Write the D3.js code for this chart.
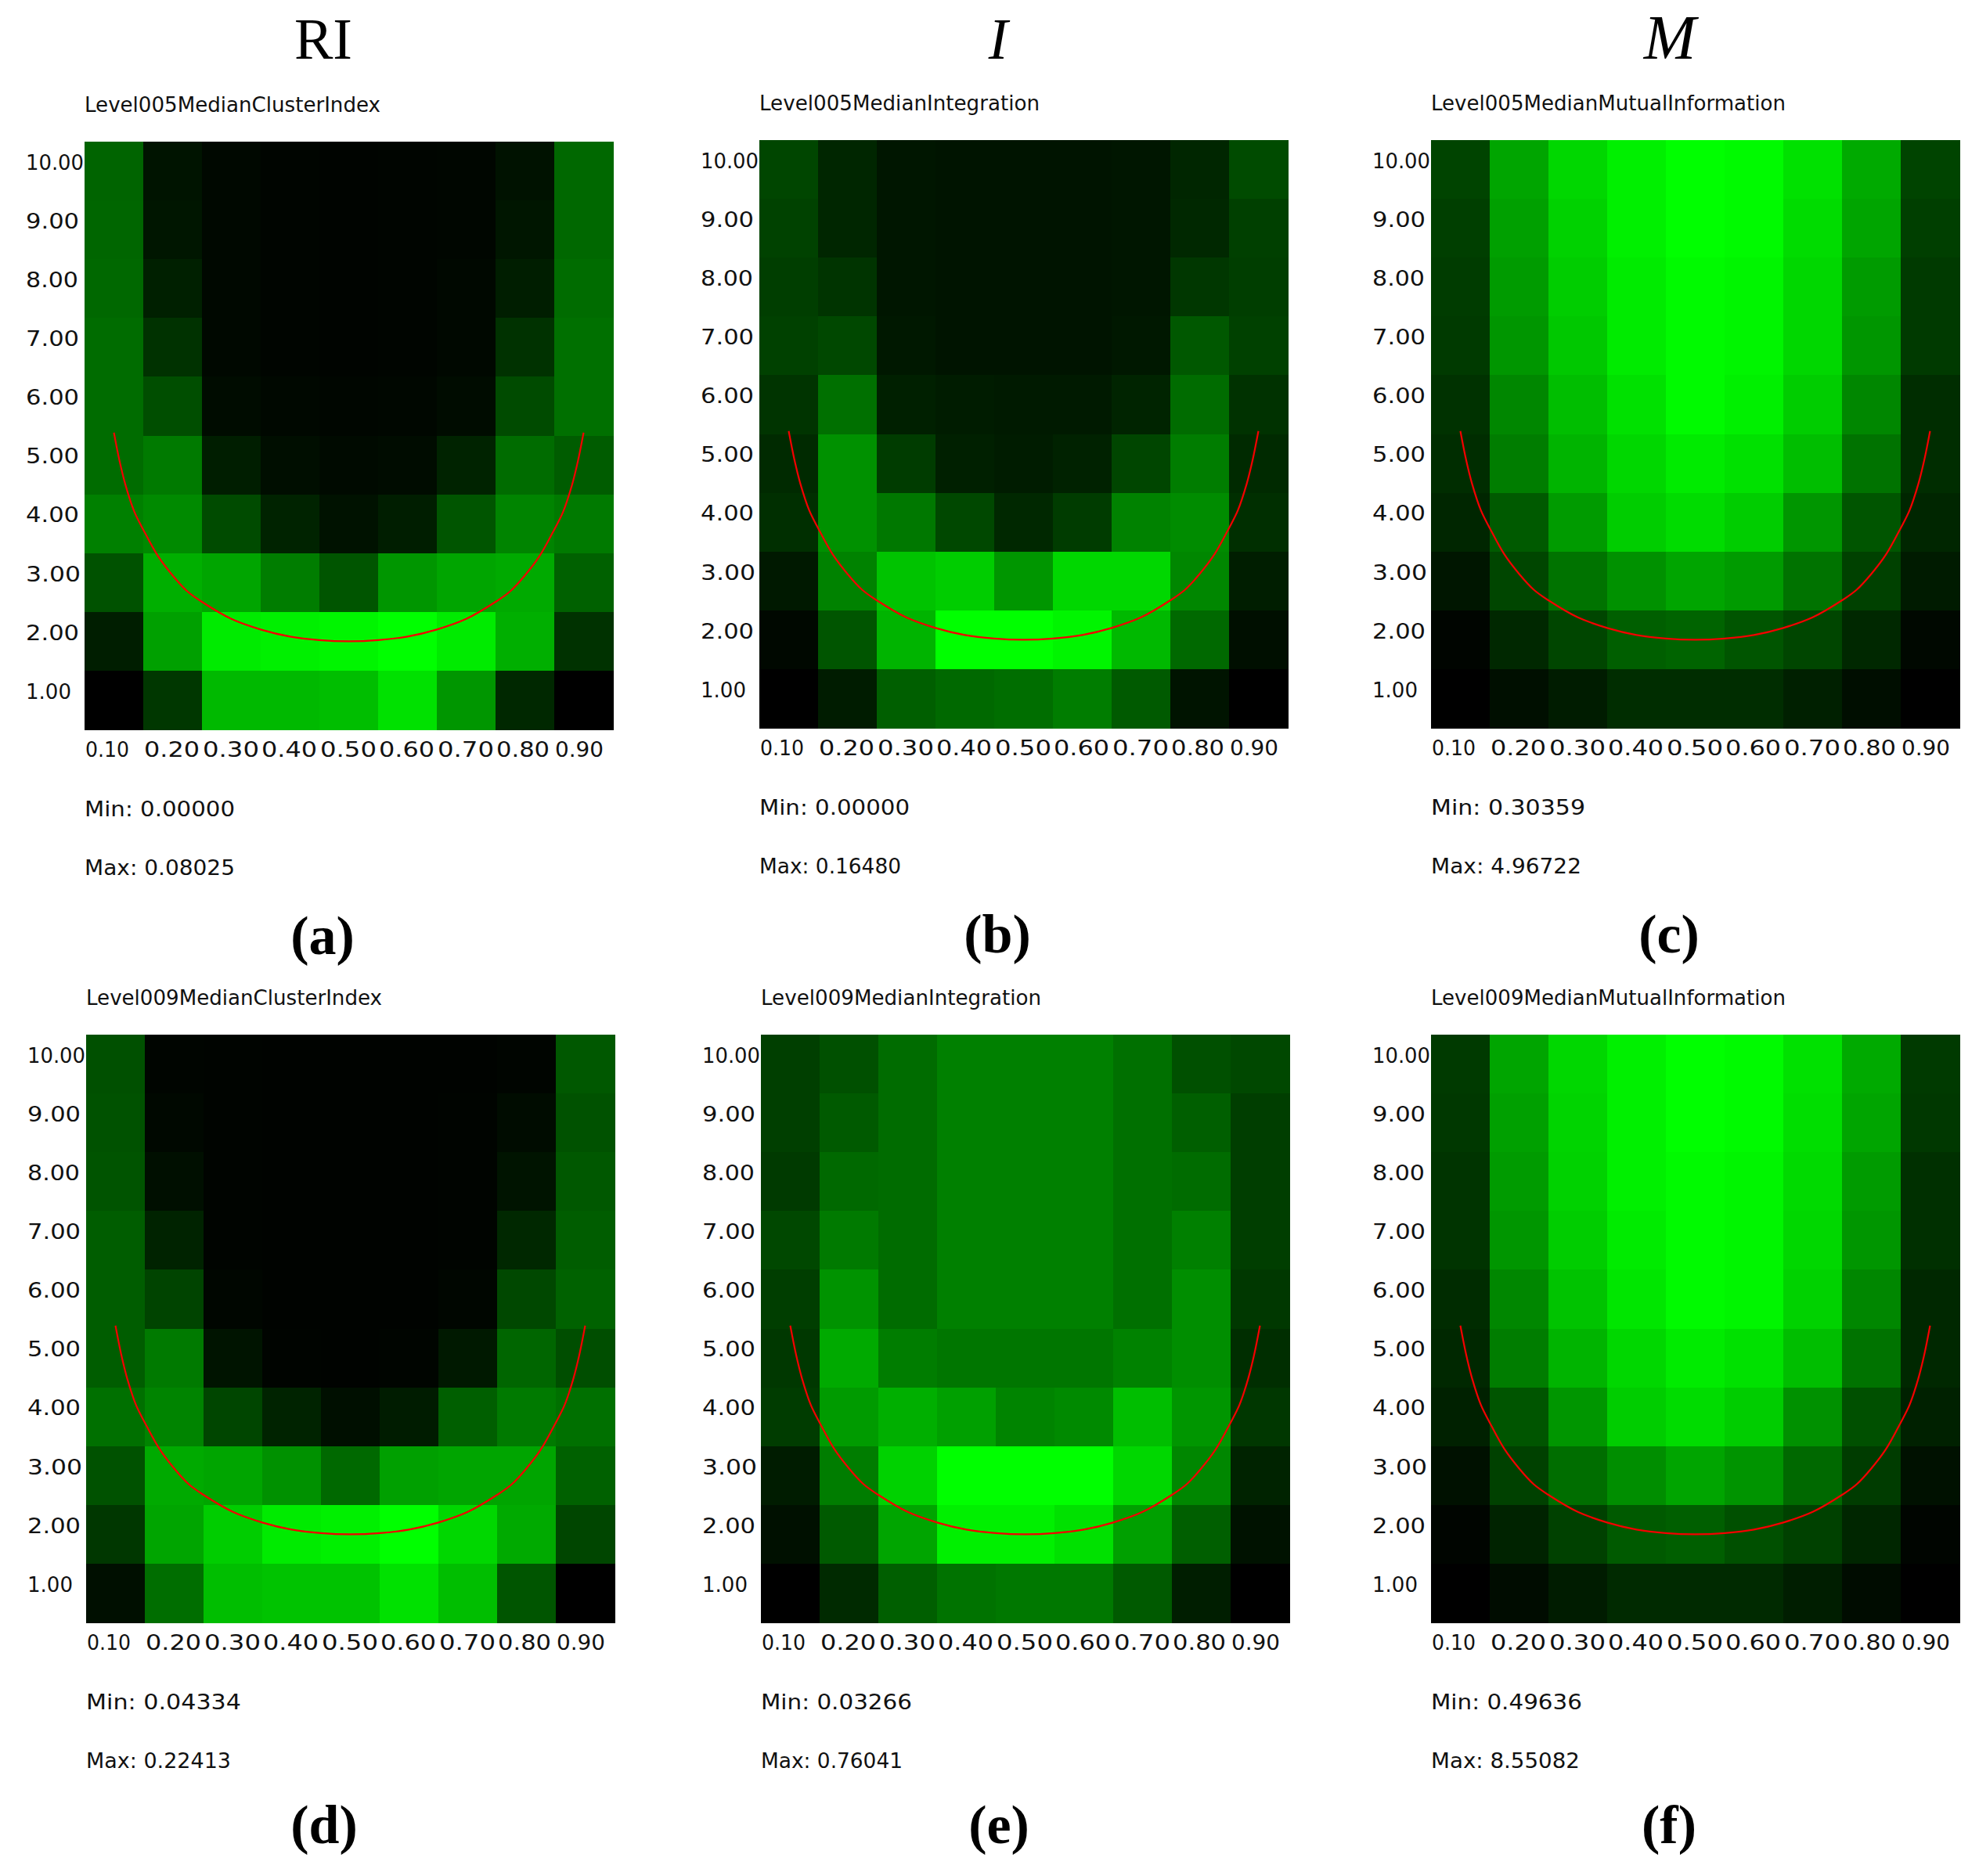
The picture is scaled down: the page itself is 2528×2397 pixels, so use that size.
<!DOCTYPE html>
<html>
<head>
<meta charset="utf-8">
<script src="https://d3js.org/d3.v7.min.js"></script>
<style>
  body { margin: 0; background: #fff; }
  .tick text, .label { font-family: "DejaVu Sans", sans-serif; fill: #111; }
  .head { font-family: "Liberation Serif", serif; fill: #000; }
</style>
</head>
<body>
<div id="vis"></div>
<script>
// tick labels
const X_TICKS = [0.1, 0.2, 0.3, 0.4, 0.5, 0.6, 0.7, 0.8, 0.9];
const Y_TICKS = [10, 9, 8, 7, 6, 5, 4, 3, 2, 1];

// green level of every cell (0-255), rows from 10.00 down to 1.00
const CLUSTER_005 = [
  [100, 20, 8, 5, 4, 5, 6, 18, 104],
  [102, 22, 8, 5, 4, 5, 6, 22, 104],
  [104, 32, 8, 5, 4, 5, 8, 30, 108],
  [108, 50, 8, 5, 4, 5, 8, 50, 112],
  [108, 78, 12, 8, 6, 7, 12, 75, 112],
  [108, 122, 30, 14, 10, 12, 35, 108, 92],
  [128, 138, 75, 35, 18, 30, 85, 132, 122],
  [82, 175, 165, 125, 85, 150, 165, 170, 97],
  [30, 160, 235, 240, 245, 255, 235, 175, 50],
  [0, 55, 185, 185, 190, 225, 150, 40, 0]
];
const INTEGRATION_005 = [
  [70, 38, 22, 20, 20, 20, 22, 38, 75],
  [66, 38, 22, 20, 20, 20, 22, 40, 64],
  [62, 52, 22, 20, 20, 20, 22, 55, 62],
  [65, 72, 24, 20, 20, 20, 24, 88, 65],
  [52, 112, 32, 28, 26, 26, 36, 108, 50],
  [42, 145, 60, 32, 28, 34, 70, 125, 42],
  [47, 145, 120, 72, 40, 60, 130, 140, 47],
  [25, 130, 195, 205, 150, 215, 215, 135, 30],
  [8, 85, 180, 255, 255, 245, 185, 105, 15],
  [0, 28, 95, 105, 110, 125, 90, 20, 0]
];
const MUTUAL_005 = [
  [68, 165, 215, 240, 255, 250, 225, 170, 68],
  [63, 160, 210, 240, 255, 250, 220, 165, 63],
  [60, 155, 205, 235, 250, 245, 215, 155, 58],
  [58, 150, 200, 235, 250, 245, 215, 150, 58],
  [50, 135, 190, 225, 250, 240, 205, 135, 45],
  [45, 125, 180, 215, 235, 225, 190, 115, 45],
  [38, 90, 155, 205, 220, 205, 150, 85, 38],
  [22, 70, 115, 145, 165, 155, 115, 65, 27],
  [5, 40, 70, 95, 100, 85, 70, 40, 8],
  [0, 15, 28, 45, 45, 45, 32, 14, 0]
];
const CLUSTER_009 = [
  [80, 5, 4, 3, 3, 3, 3, 5, 88],
  [82, 8, 4, 3, 3, 3, 4, 12, 82],
  [84, 15, 4, 3, 3, 3, 4, 20, 88],
  [93, 35, 4, 3, 3, 3, 4, 40, 93],
  [93, 68, 6, 3, 3, 3, 6, 72, 98],
  [93, 122, 20, 4, 3, 5, 25, 102, 78],
  [112, 132, 70, 35, 15, 28, 95, 122, 112],
  [82, 170, 165, 145, 105, 160, 165, 165, 97],
  [55, 165, 205, 235, 240, 255, 215, 170, 70],
  [15, 110, 190, 195, 195, 225, 190, 85, 0]
];
const INTEGRATION_009 = [
  [63, 80, 108, 128, 128, 128, 112, 80, 72],
  [63, 90, 108, 128, 128, 128, 112, 95, 62],
  [58, 105, 108, 128, 128, 128, 112, 108, 62],
  [72, 122, 108, 128, 128, 128, 112, 128, 62],
  [62, 147, 108, 128, 128, 128, 112, 142, 56],
  [56, 170, 125, 118, 118, 118, 130, 142, 46],
  [60, 155, 175, 160, 132, 138, 190, 150, 55],
  [28, 125, 210, 255, 255, 255, 215, 135, 35],
  [16, 90, 165, 240, 240, 225, 160, 95, 18],
  [0, 42, 95, 115, 120, 120, 90, 30, 0]
];
const MUTUAL_009 = [
  [58, 165, 215, 240, 255, 250, 225, 170, 58],
  [56, 160, 212, 240, 255, 250, 222, 165, 56],
  [52, 155, 210, 240, 250, 245, 218, 155, 48],
  [52, 150, 205, 235, 250, 245, 215, 150, 48],
  [44, 135, 195, 230, 250, 245, 210, 135, 40],
  [40, 125, 180, 215, 235, 225, 190, 115, 40],
  [33, 85, 150, 205, 220, 205, 145, 80, 33],
  [17, 65, 110, 142, 165, 148, 105, 60, 17],
  [5, 35, 65, 90, 95, 80, 65, 38, 5],
  [0, 12, 28, 42, 42, 42, 30, 12, 0]
];

// red curve
const CURVE_X = [0.10, 0.11, 0.12, 0.135, 0.15, 0.175, 0.20, 0.225, 0.25, 0.30, 0.35, 0.40, 0.45, 0.50,
                 0.55, 0.60, 0.65, 0.70, 0.75, 0.775, 0.80, 0.825, 0.85, 0.865, 0.88, 0.89, 0.90];
const CURVE_Y = [5.55, 5.05, 4.65, 4.2, 3.9, 3.45, 3.12, 2.85, 2.67, 2.38, 2.2, 2.08, 2.02, 2.0,
                 2.02, 2.08, 2.2, 2.38, 2.67, 2.85, 3.12, 3.45, 3.9, 4.2, 4.65, 5.05, 5.55];

const HEADS = ["RI", "I", "M"];
const TITLES = ["Level005MedianClusterIndex", "Level005MedianIntegration", "Level005MedianMutualInformation",
                "Level009MedianClusterIndex", "Level009MedianIntegration", "Level009MedianMutualInformation"];
const MINS = ["0.00000", "0.00000", "0.30359", "0.04334", "0.03266", "0.49636"];
const MAXS = ["0.08025", "0.16480", "4.96722", "0.22413", "0.76041", "8.55082"];
const CAPTIONS = ["(a)", "(b)", "(c)", "(d)", "(e)", "(f)"];
const GRIDS = [CLUSTER_005, INTEGRATION_005, MUTUAL_005, CLUSTER_009, INTEGRATION_009, MUTUAL_009];

// frame
const FRAME_WIDTH = 2528;
const FRAME_HEIGHT = 2397;
const VIS_WIDTH = 675;
const VIS_HEIGHT = 751;
const LEFTS = [108, 970, 1828, 110, 972, 1828];
const TOPS = [181, 179, 179, 1322, 1322, 1322];

// the original lettering is wider than DejaVu, so widths are fixed per label
const X_LABEL_W = [56, 71, 72, 71, 72, 71, 72, 68, 62];
const Y_LABEL_W = [74, 68, 67, 68, 68, 68, 68, 70, 68, 58];
const TITLE_W = [378, 358, 453, 378, 358, 453];
const MIN_W = [192, 192, 197, 198, 193, 193];
const MAX_W = [192, 181, 192, 185, 181, 190];

const FRAME = d3.select("#vis")
  .append("svg")
  .attr("width", FRAME_WIDTH)
  .attr("height", FRAME_HEIGHT);

const X_SCALE = d3.scaleBand().domain(X_TICKS).range([0, VIS_WIDTH]);
const Y_SCALE = d3.scaleBand().domain(Y_TICKS).range([0, VIS_HEIGHT]);
// same axes as continuous scales for the curve
const X_LINE = d3.scaleLinear().domain([0.05, 0.95]).range([0, VIS_WIDTH]);
const Y_LINE = d3.scaleLinear().domain([10.5, 0.5]).range([0, VIS_HEIGHT]);
const COLOR = d3.scaleLinear().domain([0, 255]).range(["#000000", "#00ff00"]);

const curve = d3.line()
  .x((d, i) => X_LINE(CURVE_X[i]))
  .y((d) => Y_LINE(d))
  .curve(d3.curveCatmullRom);

GRIDS.forEach((grid, p) => {
  const g = FRAME.append("g")
    .attr("transform", "translate(" + LEFTS[p] + "," + TOPS[p] + ")");

  // cells
  grid.forEach((row, r) => {
    g.selectAll("cells")
      .data(row)
      .enter()
      .append("rect")
      .attr("x", (d, i) => X_SCALE(X_TICKS[i]))
      .attr("y", Y_SCALE(Y_TICKS[r]))
      .attr("width", X_SCALE.bandwidth() + 0.5)
      .attr("height", Y_SCALE.bandwidth() + 0.5)
      .attr("shape-rendering", "crispEdges")
      .attr("fill", (d) => COLOR(d));
  });

  g.append("path")
    .attr("d", curve(CURVE_Y))
    .attr("fill", "none")
    .attr("stroke", "#f40000")
    .attr("stroke-width", 2.2);

  // x axis, labels start at the left of each column
  const xAxis = g.append("g")
    .attr("transform", "translate(0," + VIS_HEIGHT + ")")
    .call(d3.axisBottom(X_SCALE).tickSize(0).tickFormat(d3.format(".2f")));
  xAxis.select(".domain").remove();
  xAxis.selectAll("text")
    .attr("text-anchor", "start")
    .attr("x", -X_SCALE.bandwidth() / 2 + 1)
    .attr("y", 17)
    .attr("font-size", 26)
    .attr("textLength", (d, i) => X_LABEL_W[i])
    .attr("lengthAdjust", "spacingAndGlyphs");

  // y axis, labels start at the same x
  const yAxis = g.append("g")
    .call(d3.axisLeft(Y_SCALE).tickSize(0).tickFormat(d3.format(".2f")));
  yAxis.select(".domain").remove();
  yAxis.selectAll("text")
    .attr("text-anchor", "start")
    .attr("x", -75)
    .attr("y", -10)
    .attr("font-size", 26)
    .attr("textLength", (d, i) => Y_LABEL_W[i])
    .attr("lengthAdjust", "spacingAndGlyphs");

  g.append("text").attr("class", "label")
    .attr("x", 0).attr("y", -38)
    .attr("font-size", 26)
    .attr("textLength", TITLE_W[p])
    .attr("lengthAdjust", "spacingAndGlyphs")
    .text(TITLES[p]);
  g.append("text").attr("class", "label")
    .attr("x", 0).attr("y", VIS_HEIGHT + 111)
    .attr("font-size", 26)
    .attr("textLength", MIN_W[p])
    .attr("lengthAdjust", "spacingAndGlyphs")
    .text("Min: " + MINS[p]);
  g.append("text").attr("class", "label")
    .attr("x", 0).attr("y", VIS_HEIGHT + 186)
    .attr("font-size", 26)
    .attr("textLength", MAX_W[p])
    .attr("lengthAdjust", "spacingAndGlyphs")
    .text("Max: " + MAXS[p]);

  g.append("text").attr("class", "head")
    .attr("x", 304)
    .attr("y", VIS_HEIGHT + (p < 3 ? 287 : 282))
    .attr("text-anchor", "middle")
    .attr("font-size", 70)
    .attr("font-weight", "bold")
    .text(CAPTIONS[p]);

  if (p < 3) {
    g.append("text").attr("class", "head")
      .attr("x", 305)
      .attr("y", 75 - TOPS[p])
      .attr("text-anchor", "middle")
      .attr("font-size", p === 2 ? 80 : 74)
      .attr("font-style", p === 0 ? "normal" : "italic")
      .text(HEADS[p]);
  }
});
</script>
</body>
</html>
